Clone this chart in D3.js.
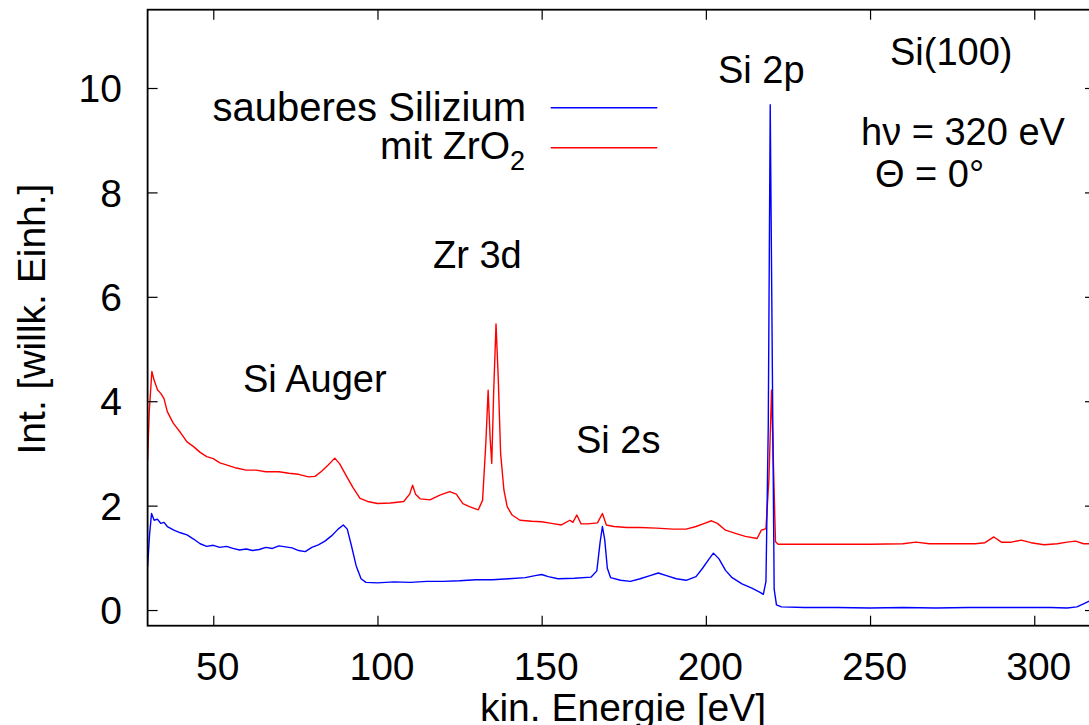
<!DOCTYPE html>
<html>
<head>
<meta charset="utf-8">
<script src="https://cdn.jsdelivr.net/npm/d3@7"></script>
<style>
  html, body { margin: 0; padding: 0; background: #fff; }
  svg { display: block; font-family: "Liberation Sans", Arial, Helvetica, sans-serif; }
</style>
</head>
<body>
<svg id="chart" width="1089" height="725"></svg>
<script>
// ---- data ----
const xTicks = [50, 100, 150, 200, 250, 300];
const yTicks = [0, 2, 4, 6, 8, 10];

const seriesNames = ["sauberes Silizium", "mit ZrO2"];

// kinetic energy [eV] and intensity for clean silicon
const cleanE = [30.0,30.6,31.2,32,33,34,35,36,38,40,42,44,46,48,50,52,54,56,58,60,62,64,66,68,70,72,74,76,78,80,82,84,86,88,89.6,90.8,92,93.5,95,96.5,100,105,110,115,120,125,130,135,140,145,148,150,152,155,160,165,166.8,167.8,168.5,169.2,170,171,174,177,180,183,185.5,188,191,194,197,199,201,202.3,204,206,208,211,214,216.5,217.5,218.3,219,219.6,220.2,220.8,221.5,223,230,240,250,260,270,280,290,300,305,310,313,315,317];
const cleanI = [0.83,1.45,1.85,1.72,1.74,1.66,1.68,1.60,1.53,1.48,1.44,1.36,1.27,1.22,1.24,1.20,1.22,1.18,1.15,1.17,1.14,1.16,1.20,1.18,1.23,1.21,1.19,1.14,1.12,1.20,1.25,1.32,1.42,1.55,1.63,1.55,1.25,0.85,0.60,0.53,0.52,0.54,0.53,0.55,0.55,0.56,0.58,0.58,0.60,0.62,0.66,0.68,0.64,0.60,0.61,0.63,0.75,1.30,1.60,1.35,0.80,0.62,0.57,0.55,0.60,0.66,0.71,0.66,0.60,0.57,0.64,0.80,0.98,1.09,0.98,0.76,0.62,0.50,0.42,0.34,0.30,0.55,3.5,9.68,5.0,0.4,0.10,0.06,0.05,0.05,0.04,0.05,0.04,0.05,0.05,0.05,0.05,0.04,0.06,0.12,0.18];

// kinetic energy [eV] and intensity with ZrO2
const zrE = [30.0,30.5,31.3,32,33,34,35,36,37.8,40,42,44,46,48,50,52,54,57,60,63,66,70,73,76,79,81,83,85,87,88.5,90.6,92.5,94.7,97,100,104,108,109.8,110.7,111.6,113,116,119,122,124,126,128,130.7,132,133,133.7,134.3,134.8,135.4,136.1,136.8,137.5,138.5,139.5,141,143.4,147,150,153,156,158.6,159.5,160.7,162,164,167,168.5,169.7,172,176,180,185,190,194,197,199.6,201.7,203.5,206,209,212,215.6,216.9,218.3,219.2,220,220.7,221.2,222,230,240,250,260,264,268,275,282,285,287.7,290,293,296,299,303,307,310,312.6,315,317];
const zrI = [2.87,3.8,4.57,4.40,4.22,4.15,4.05,3.80,3.58,3.40,3.22,3.13,3.02,2.94,2.90,2.82,2.78,2.72,2.68,2.68,2.65,2.65,2.62,2.60,2.55,2.56,2.66,2.78,2.91,2.80,2.56,2.35,2.14,2.08,2.04,2.05,2.08,2.22,2.39,2.22,2.13,2.11,2.20,2.27,2.22,2.04,1.98,1.92,2.10,3.20,4.21,3.30,2.81,4.20,5.48,4.40,3.00,2.30,1.98,1.82,1.72,1.70,1.69,1.66,1.63,1.72,1.68,1.82,1.65,1.65,1.67,1.85,1.63,1.60,1.58,1.58,1.57,1.55,1.55,1.60,1.66,1.71,1.66,1.53,1.47,1.41,1.37,1.53,1.56,2.5,4.21,2.5,1.31,1.26,1.26,1.26,1.26,1.27,1.30,1.27,1.27,1.27,1.29,1.40,1.30,1.30,1.34,1.29,1.25,1.27,1.30,1.32,1.27,1.27];

const peakLabels = ["Si Auger", "Zr 3d", "Si 2s", "Si 2p"];

// ---- drawing ----
const svg = d3.select("#chart");
const pLeft = 147.6, pRight = 1095, pTop = 9.7, pBottom = 625.7;
const fs = 38;

const x = d3.scaleLinear().domain([30, 318.5]).range([pLeft, pRight]);
const y = d3.scaleLinear().domain([-0.3, 11.5]).range([pBottom, pTop]);

svg.append("defs").append("clipPath").attr("id", "clip")
  .append("rect").attr("x", pLeft).attr("y", pTop).attr("width", pRight - pLeft).attr("height", pBottom - pTop);

const line = d3.line().x(d => x(d[0])).y(d => y(d[1]));
const cleanData = cleanE.map((e, i) => [e, cleanI[i]]);
const zrData = zrE.map((e, i) => [e, zrI[i]]);

const plot = svg.append("g").attr("clip-path", "url(#clip)");
plot.append("path").datum(zrData).attr("d", line)
  .attr("fill", "none").attr("stroke", "#ff0000").attr("stroke-width", 1.4).attr("stroke-linejoin", "round");
plot.append("path").datum(cleanData).attr("d", line)
  .attr("fill", "none").attr("stroke", "#0000ff").attr("stroke-width", 1.4).attr("stroke-linejoin", "round");

// axes with inward ticks (mirrored on top and right)
const tickLen = 10;
const axB = svg.append("g").attr("transform", `translate(0,${pBottom})`)
  .call(d3.axisBottom(x).tickValues(xTicks).tickSizeInner(-tickLen).tickSizeOuter(0).tickPadding(0));
const axT = svg.append("g").attr("transform", `translate(0,${pTop})`)
  .call(d3.axisTop(x).tickValues(xTicks).tickSizeInner(-tickLen).tickSizeOuter(0).tickFormat(""));
const axL = svg.append("g").attr("transform", `translate(${pLeft},0)`)
  .call(d3.axisLeft(y).tickValues(yTicks).tickSizeInner(-tickLen).tickSizeOuter(0).tickPadding(0));
const axR = svg.append("g").attr("transform", `translate(${pRight},0)`)
  .call(d3.axisRight(y).tickValues(yTicks).tickSizeInner(-tickLen).tickSizeOuter(0).tickFormat(""));

[axB, axT, axL, axR].forEach(a => {
  a.select(".domain").remove();
  a.selectAll(".tick line").attr("stroke", "#000").attr("stroke-width", 1.2);
});

axB.selectAll(".tick text")
  .attr("font-size", 39).attr("fill", "#000").attr("font-family", "Liberation Sans, Arial, sans-serif")
  .attr("dy", null).attr("y", 680 - pBottom).attr("dx", 4);
axL.selectAll(".tick text")
  .attr("font-size", 39).attr("fill", "#000").attr("font-family", "Liberation Sans, Arial, sans-serif")
  .attr("x", 122 - pLeft).attr("dy", "0.35em");

// frame
svg.append("rect").attr("x", pLeft).attr("y", pTop).attr("width", pRight - pLeft).attr("height", pBottom - pTop)
  .attr("fill", "none").attr("stroke", "#000").attr("stroke-width", 1.8);

// axis titles
svg.append("text").attr("x", 623).attr("y", 721).attr("text-anchor", "middle")
  .attr("font-size", 39).text("kin. Energie [eV]");
svg.append("text").attr("transform", "translate(45,319) rotate(-90)").attr("text-anchor", "middle")
  .attr("font-size", 39).text("Int. [willk. Einh.]");

// legend
const legend = svg.append("g");
const legendColors = ["#0000ff", "#ff0000"];
const legendY = [107.7, 147.7];
legend.append("text").attr("x", 526).attr("y", 121).attr("text-anchor", "end")
  .attr("font-size", 40).text(seriesNames[0]);
const t2 = legend.append("text").attr("x", 525).attr("y", 158.5).attr("text-anchor", "end").attr("font-size", 39);
t2.append("tspan").text("mit ZrO");
t2.append("tspan").attr("font-size", 27).attr("dy", 11).text("2");
legendY.forEach((ly, i) => {
  legend.append("line").attr("x1", 550.7).attr("x2", 657.3).attr("y1", ly).attr("y2", ly)
    .attr("stroke", legendColors[i]).attr("stroke-width", 1.4);
});

// annotations
const ann = [
  [peakLabels[0], 243, 391.7],
  [peakLabels[1], 433, 267.8],
  [peakLabels[2], 576, 452.7],
  [peakLabels[3], 718, 82.7],
  ["Si(100)", 890, 65],
  ["h\u03BD = 320 eV", 861, 145],
  ["\u0398 = 0\u00B0", 875, 186.7]
];
ann.forEach(a => {
  svg.append("text").attr("x", a[1]).attr("y", a[2]).attr("font-size", fs).text(a[0]);
});
</script>
</body>
</html>
